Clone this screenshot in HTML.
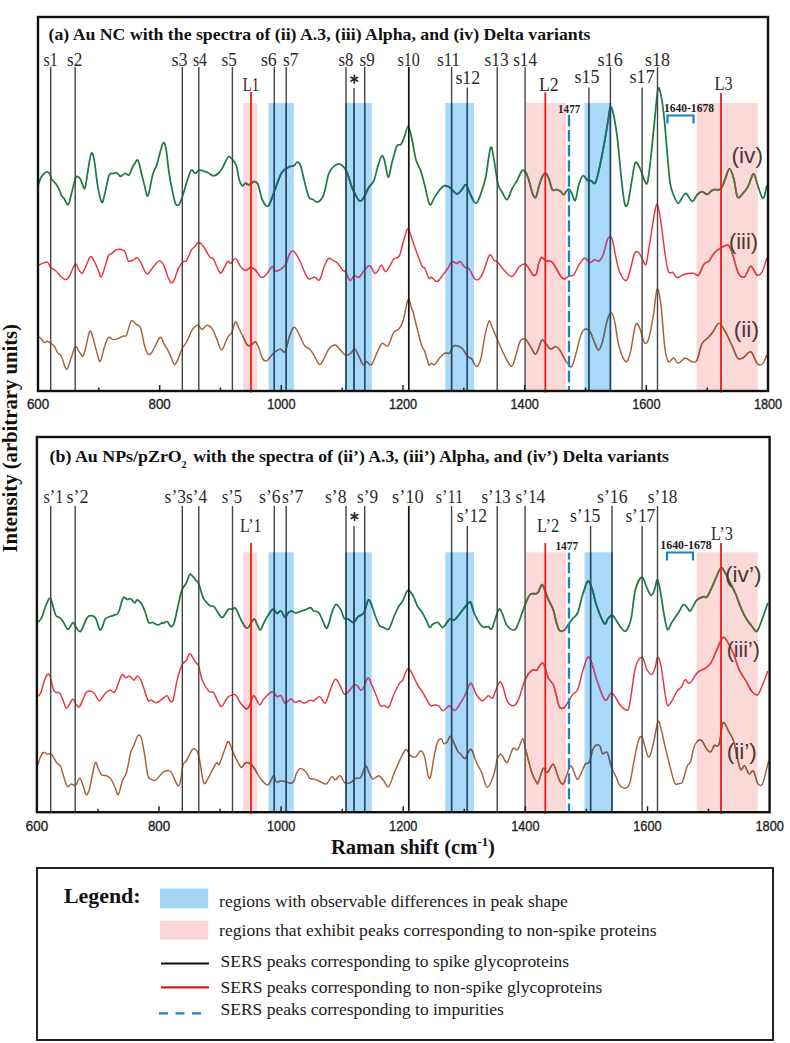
<!DOCTYPE html><html><head><meta charset="utf-8"><style>html,body{margin:0;padding:0;background:#fff;width:790px;height:1043px;overflow:hidden}</style></head><body><svg width="790" height="1043" viewBox="0 0 790 1043" style="display:block">
<rect width="790" height="1043" fill="#fff"/>
<rect x="243.2" y="103" width="13.9" height="288" fill="#fbd9d9"/>
<rect x="268.5" y="103" width="25.3" height="288" fill="#a9d9f8"/>
<rect x="346.5" y="103" width="25.3" height="288" fill="#a9d9f8"/>
<rect x="445.3" y="103" width="28.7" height="288" fill="#a9d9f8"/>
<rect x="526.3" y="103" width="39.7" height="288" fill="#fbd9d9"/>
<rect x="584.5" y="103" width="27.0" height="288" fill="#a9d9f8"/>
<rect x="696.5" y="103" width="61.2" height="288" fill="#fbd9d9"/>
<clipPath id="pk17"><rect x="243.2" y="103" width="13.9" height="288"/><rect x="526.3" y="103" width="39.7" height="288"/><rect x="696.5" y="103" width="61.2" height="288"/></clipPath>
<clipPath id="bl17"><rect x="268.5" y="103" width="25.3" height="288"/><rect x="346.5" y="103" width="25.3" height="288"/><rect x="445.3" y="103" width="28.7" height="288"/><rect x="584.5" y="103" width="27.0" height="288"/></clipPath>
<defs><path id="c_a_iv" d="M38.5,184.2 C38.9,183.1 39.9,179.4 40.9,177.6 C41.9,175.8 43.1,174.5 44.2,173.5 C45.3,172.5 46.5,171.7 47.5,171.8 C48.5,171.9 49.3,173.1 50.0,174.3 C50.7,175.5 50.6,177.7 51.6,179.2 C52.6,180.7 54.5,181.8 55.7,183.4 C56.9,185.1 58.0,187.1 59.0,189.1 C60.0,191.1 60.7,194.2 61.5,195.7 C62.3,197.2 62.9,196.7 64.0,198.2 C65.1,199.7 66.9,205.4 68.1,204.7 C69.3,204.0 70.2,198.4 71.4,194.0 C72.6,189.6 74.4,181.3 75.5,178.4 C76.6,175.5 77.2,176.7 78.0,176.8 C78.8,176.9 79.5,177.4 80.4,179.2 C81.4,181.0 82.9,186.3 83.7,187.5 C84.5,188.7 84.6,190.2 85.4,186.6 C86.2,183.0 87.7,171.7 88.7,166.1 C89.7,160.5 90.5,153.7 91.5,152.9 C92.5,152.1 93.4,155.6 94.4,161.1 C95.4,166.6 96.5,178.9 97.7,185.8 C98.9,192.7 100.6,201.2 101.8,202.3 C103.0,203.4 103.9,196.9 105.1,192.4 C106.3,187.9 107.8,178.2 109.2,175.1 C110.6,171.9 112.1,173.9 113.3,173.5 C114.5,173.1 115.4,172.2 116.6,172.7 C117.8,173.2 119.3,176.2 120.7,176.3 C122.1,176.4 123.5,173.7 124.9,173.5 C126.3,173.3 127.8,176.1 129.0,175.1 C130.2,174.1 131.4,169.6 132.3,167.7 C133.2,165.8 133.8,164.8 134.7,163.6 C135.6,162.4 136.9,158.8 138.0,160.3 C139.1,161.8 140.2,168.4 141.3,172.7 C142.4,176.9 143.5,182.0 144.6,185.8 C145.7,189.6 146.5,197.6 147.9,195.7 C149.3,193.8 151.3,179.5 152.8,174.3 C154.3,169.1 155.2,169.5 156.9,164.4 C158.6,159.3 161.2,146.7 162.7,143.9 C164.2,141.1 164.8,143.0 165.8,147.8 C166.9,152.6 167.9,165.4 169.0,172.5 C170.1,179.6 171.2,185.4 172.3,190.6 C173.4,195.8 174.5,201.5 175.6,203.8 C176.7,206.1 177.8,205.7 178.9,204.6 C180.0,203.5 180.8,201.2 182.2,197.2 C183.6,193.2 185.7,185.3 187.2,180.8 C188.7,176.3 189.9,171.3 191.3,170.1 C192.7,168.9 194.0,173.4 195.4,173.4 C196.8,173.4 197.4,170.2 199.5,170.1 C201.6,169.9 205.4,171.6 207.7,172.5 C210.0,173.4 211.6,175.8 213.5,175.8 C215.4,175.8 217.5,174.1 219.2,172.5 C220.8,170.9 221.9,168.6 223.4,166.0 C224.9,163.4 226.8,158.0 228.3,156.9 C229.8,155.8 231.0,157.9 232.4,159.4 C233.8,160.9 235.4,162.7 236.5,166.0 C237.6,169.3 238.0,175.8 239.0,179.1 C240.0,182.4 241.2,185.0 242.3,185.7 C243.4,186.4 244.5,183.3 245.6,183.2 C246.7,183.1 247.5,185.2 248.9,184.9 C250.3,184.6 252.3,181.8 253.8,181.6 C255.3,181.4 256.5,181.1 257.9,184.0 C259.3,186.9 260.5,195.2 262.0,198.9 C263.5,202.6 265.6,205.8 267.0,206.3 C268.4,206.9 268.9,205.1 270.3,202.2 C271.7,199.3 273.3,193.9 275.2,189.0 C277.1,184.1 279.4,176.2 281.8,172.5 C284.2,168.8 287.9,167.7 289.9,166.6 C291.9,165.5 292.8,166.5 294.0,165.8 C295.2,165.1 296.2,162.2 297.3,162.2 C298.4,162.2 299.4,162.5 300.6,165.8 C301.8,169.2 303.3,177.1 304.7,182.3 C306.1,187.5 307.5,194.2 308.9,197.1 C310.3,200.0 311.5,198.8 313.0,199.6 C314.5,200.4 316.1,202.8 317.9,202.0 C319.7,201.2 321.9,199.3 323.7,194.6 C325.5,189.9 327.1,178.5 328.6,174.0 C330.1,169.5 331.2,169.1 332.7,167.5 C334.2,165.9 336.2,164.6 337.7,164.2 C339.2,163.8 340.3,163.8 341.8,165.0 C343.3,166.2 345.1,168.0 346.7,171.6 C348.3,175.2 350.1,182.4 351.6,186.4 C353.1,190.4 354.4,192.9 355.8,195.4 C357.2,197.9 358.5,200.9 359.9,201.2 C361.3,201.5 362.5,199.4 364.0,197.1 C365.5,194.8 367.2,189.9 368.9,187.2 C370.5,184.4 372.4,184.2 373.9,180.6 C375.4,177.0 376.7,169.9 378.0,165.8 C379.3,161.7 380.7,156.7 381.8,155.9 C382.9,155.1 383.5,157.3 384.6,160.9 C385.7,164.5 387.1,177.0 388.3,177.3 C389.5,177.6 390.6,167.7 392.0,162.5 C393.4,157.3 395.4,149.1 396.9,146.1 C398.4,143.1 399.8,145.9 401.0,144.4 C402.2,142.9 403.1,140.0 404.3,137.0 C405.5,134.0 406.9,126.2 408.1,126.3 C409.3,126.4 410.4,132.3 411.7,137.8 C413.0,143.3 414.3,153.7 415.8,159.2 C417.3,164.7 419.2,166.4 420.7,170.8 C422.2,175.2 423.3,180.0 424.8,185.6 C426.3,191.2 428.1,202.6 429.7,204.5 C431.3,206.4 432.9,199.7 434.7,197.1 C436.5,194.5 438.8,190.8 440.4,188.9 C442.0,187.0 443.1,185.9 444.6,185.6 C446.1,185.3 447.4,185.8 449.5,187.2 C451.6,188.6 454.8,193.4 456.9,193.8 C458.9,194.2 460.3,191.2 461.8,189.7 C463.3,188.2 464.6,184.0 466.0,184.7 C467.4,185.4 468.5,190.7 470.1,193.8 C471.7,196.9 474.0,203.3 475.8,203.3 C477.6,203.3 479.2,198.1 480.8,193.8 C482.4,189.5 484.1,185.0 485.7,177.3 C487.3,169.6 489.2,150.7 490.6,147.7 C492.0,144.7 492.7,153.2 493.9,159.2 C495.1,165.2 496.6,178.4 498.0,183.9 C499.4,189.4 500.7,189.6 502.2,192.2 C503.7,194.8 505.5,200.1 507.1,199.6 C508.7,199.1 510.4,192.1 512.0,188.9 C513.6,185.7 515.4,183.6 517.0,180.6 C518.6,177.6 520.5,172.3 521.9,170.8 C523.3,169.3 524.1,170.2 525.2,171.6 C526.3,173.0 527.3,175.3 528.5,179.0 C529.7,182.7 531.4,190.8 532.6,193.8 C533.8,196.8 534.8,198.5 535.9,197.1 C537.0,195.7 538.0,189.0 539.1,185.6 C540.2,182.2 541.3,178.6 542.4,176.5 C543.5,174.4 544.6,172.8 545.7,173.2 C546.8,173.6 547.9,176.2 549.0,179.0 C550.1,181.8 551.1,187.9 552.3,189.7 C553.5,191.5 555.0,189.4 556.4,189.7 C557.8,190.0 559.3,190.5 560.5,191.3 C561.7,192.1 562.4,195.0 563.8,194.6 C565.2,194.2 567.3,189.0 568.7,188.9 C570.1,188.8 570.9,191.9 572.0,193.8 C573.1,195.7 574.2,201.8 575.3,200.4 C576.4,199.0 577.4,189.7 578.6,185.6 C579.8,181.5 581.2,176.5 582.7,175.7 C584.2,174.9 586.3,179.8 587.7,180.6 C589.1,181.4 589.8,180.2 591.0,180.6 C592.2,181.0 593.9,184.5 595.1,183.1 C596.3,181.7 596.9,178.8 598.4,172.4 C599.9,166.0 602.5,153.2 604.1,144.4 C605.7,135.6 607.2,125.9 608.2,119.7 C609.2,113.5 609.6,108.5 610.4,107.4 C611.2,106.3 612.1,108.1 613.2,113.2 C614.4,118.3 615.9,126.8 617.3,137.8 C618.7,148.8 620.2,168.0 621.4,179.0 C622.6,190.0 623.6,199.7 624.7,203.7 C625.8,207.7 626.8,206.9 628.0,202.8 C629.2,198.7 630.9,185.7 632.1,179.0 C633.3,172.3 634.0,164.2 635.4,162.5 C636.8,160.8 638.6,165.8 640.3,169.1 C641.9,172.4 644.1,180.2 645.3,182.3 C646.5,184.4 646.8,185.3 647.7,181.5 C648.6,177.7 649.5,169.2 650.6,159.7 C651.7,150.2 653.0,135.8 654.2,124.3 C655.4,112.8 656.7,95.9 657.7,90.6 C658.7,85.3 659.4,88.3 660.4,92.4 C661.4,96.5 662.9,106.5 663.9,115.4 C664.9,124.3 665.6,134.4 666.6,145.6 C667.6,156.8 668.9,174.5 670.1,182.8 C671.3,191.1 672.4,191.8 673.7,195.2 C675.0,198.6 676.6,202.9 678.1,203.2 C679.6,203.5 681.2,198.6 682.5,197.0 C683.8,195.4 684.5,192.7 686.1,193.4 C687.7,194.1 690.5,201.1 692.3,201.4 C694.1,201.7 695.1,196.8 696.7,195.2 C698.3,193.6 700.2,191.8 702.0,191.6 C703.8,191.4 705.5,194.6 707.3,194.3 C709.1,194.0 710.5,190.8 712.7,189.9 C714.9,189.0 718.5,190.8 720.6,189.0 C722.7,187.2 723.6,182.6 725.1,179.2 C726.6,175.8 728.0,168.6 729.5,168.6 C731.0,168.6 732.6,174.5 733.9,179.2 C735.2,183.9 736.0,194.6 737.5,197.0 C739.0,199.4 741.0,195.2 742.8,193.4 C744.6,191.6 746.3,189.6 748.1,186.3 C749.9,183.1 751.9,174.5 753.4,173.9 C754.9,173.3 755.7,179.1 757.0,182.8 C758.3,186.5 760.2,193.7 761.4,196.1 C762.6,198.5 763.1,198.6 764.0,197.0 C764.9,195.4 766.2,188.1 766.7,186.3"/></defs>
<use href="#c_a_iv" fill="none" stroke="#1f7a45" stroke-width="1.75" stroke-linejoin="round" stroke-linecap="round"/>
<use href="#c_a_iv" fill="none" stroke="#6e6a3c" stroke-width="1.75" stroke-linejoin="round" stroke-linecap="round" clip-path="url(#pk17)"/>
<use href="#c_a_iv" fill="none" stroke="#1a6e6a" stroke-width="1.75" stroke-linejoin="round" stroke-linecap="round" clip-path="url(#bl17)"/>
<defs><path id="c_a_iii" d="M38.5,265.0 C39.2,264.7 41.1,263.9 42.6,263.4 C44.1,262.9 46.1,261.5 47.5,262.2 C48.9,262.9 49.4,266.1 50.8,267.5 C52.2,268.9 54.1,269.3 55.7,270.8 C57.4,272.3 59.1,275.0 60.7,276.5 C62.4,278.0 64.1,279.9 65.6,279.8 C67.1,279.7 68.1,278.3 69.7,275.7 C71.3,273.1 73.7,265.2 75.2,264.2 C76.7,263.2 77.7,268.4 78.8,269.9 C79.9,271.4 81.0,273.6 82.1,273.2 C83.2,272.8 84.0,270.2 85.4,267.5 C86.8,264.8 88.8,257.8 90.3,256.8 C91.8,255.8 93.0,259.4 94.4,261.7 C95.8,264.0 97.4,268.2 98.5,270.8 C99.6,273.4 100.0,277.3 101.0,277.0 C102.0,276.7 103.1,272.6 104.3,269.1 C105.5,265.6 107.2,258.5 108.4,255.9 C109.6,253.3 110.3,254.5 111.7,253.5 C113.1,252.5 114.7,250.2 116.6,249.7 C118.5,249.1 121.7,249.6 123.2,250.2 C124.7,250.8 124.9,251.7 125.7,253.5 C126.5,255.3 127.0,259.8 128.2,260.9 C129.4,262.0 131.6,260.6 133.1,260.1 C134.6,259.6 135.8,257.3 137.2,257.9 C138.6,258.4 140.1,261.2 141.3,263.4 C142.5,265.5 143.5,269.0 144.6,270.8 C145.7,272.6 146.5,274.6 147.9,274.0 C149.3,273.4 150.9,269.7 152.8,267.5 C154.7,265.3 157.5,261.2 159.4,260.9 C161.3,260.6 162.8,263.3 164.1,265.8 C165.4,268.3 166.3,272.9 167.4,275.7 C168.5,278.4 169.6,281.5 170.7,282.3 C171.8,283.1 172.8,282.8 174.0,280.6 C175.2,278.4 176.6,272.2 178.1,269.1 C179.6,266.0 181.6,263.1 183.0,261.7 C184.4,260.3 184.9,262.8 186.3,260.9 C187.7,259.0 189.8,252.7 191.3,250.2 C192.8,247.7 194.2,247.4 195.4,246.1 C196.6,244.8 197.1,242.8 198.2,242.5 C199.3,242.2 200.7,243.0 202.0,244.4 C203.3,245.8 204.7,248.8 206.1,251.0 C207.5,253.2 209.0,256.2 210.2,257.6 C211.4,259.0 212.0,256.9 213.5,259.2 C215.0,261.5 217.8,269.4 219.2,271.6 C220.6,273.8 220.3,274.0 221.7,272.4 C223.1,270.8 226.0,263.2 227.5,261.7 C229.0,260.2 229.5,263.9 230.8,263.4 C232.1,262.8 233.8,257.9 235.4,258.4 C237.0,258.9 238.9,264.6 240.6,266.6 C242.3,268.6 243.9,270.2 245.6,270.4 C247.2,270.5 248.9,267.6 250.5,267.5 C252.1,267.4 253.6,268.3 255.4,269.9 C257.2,271.5 259.4,276.5 261.2,277.3 C263.0,278.1 264.3,276.7 266.1,274.9 C267.9,273.1 270.4,267.3 271.9,266.6 C273.4,265.9 273.7,270.4 275.2,270.8 C276.7,271.2 279.2,270.2 281.0,269.1 C282.8,268.0 284.5,266.5 285.9,264.2 C287.2,261.9 288.0,257.3 289.1,255.1 C290.2,252.9 291.3,251.3 292.4,251.0 C293.5,250.7 294.3,251.6 295.7,253.5 C297.1,255.4 299.1,259.4 300.6,262.5 C302.1,265.6 303.3,269.6 304.7,272.4 C306.1,275.1 307.2,278.2 308.9,279.0 C310.5,279.8 312.8,277.2 314.6,277.3 C316.4,277.4 318.0,281.7 319.6,279.8 C321.2,277.9 323.0,269.4 324.5,265.8 C326.0,262.2 327.2,259.3 328.6,258.4 C330.0,257.4 331.3,259.4 332.7,260.1 C334.1,260.8 335.1,260.9 336.8,262.5 C338.5,264.1 341.1,268.2 342.6,269.9 C344.1,271.5 344.7,270.6 345.9,272.4 C347.1,274.2 348.6,280.1 350.0,280.6 C351.4,281.2 352.6,276.2 354.1,275.7 C355.6,275.1 357.4,278.1 359.0,277.3 C360.6,276.5 362.2,272.7 364.0,270.8 C365.8,268.9 367.9,265.4 369.7,265.8 C371.5,266.2 373.3,272.4 374.7,273.2 C376.1,274.0 376.9,272.2 378.0,270.8 C379.1,269.4 380.1,264.9 381.3,265.0 C382.5,265.1 384.0,271.3 385.4,271.6 C386.8,271.9 388.1,268.7 389.5,266.6 C390.9,264.5 392.0,261.0 393.6,259.2 C395.2,257.4 397.8,258.9 399.4,255.9 C401.0,252.9 402.1,245.6 403.5,241.1 C404.9,236.6 406.4,229.8 407.6,228.8 C408.8,227.9 409.9,233.1 410.9,235.4 C411.8,237.7 412.2,239.7 413.3,242.8 C414.4,246.0 415.9,250.3 417.4,254.3 C418.9,258.3 421.1,264.3 422.3,266.6 C423.5,268.9 423.7,266.4 424.8,268.3 C425.9,270.2 427.8,276.7 428.9,278.2 C430.0,279.7 430.0,276.8 431.4,277.3 C432.8,277.9 435.3,281.9 437.2,281.5 C439.1,281.1 441.1,277.1 442.9,274.9 C444.7,272.7 446.3,270.5 447.8,268.3 C449.3,266.1 450.5,262.5 452.0,261.7 C453.5,260.9 455.5,263.4 456.9,263.4 C458.3,263.4 458.8,261.0 460.2,261.7 C461.6,262.4 463.6,266.3 465.1,267.5 C466.6,268.7 467.6,267.2 469.2,269.1 C470.8,271.0 473.4,277.4 475.0,279.0 C476.6,280.6 477.7,280.1 479.1,279.0 C480.5,277.9 481.5,276.4 483.2,272.4 C484.9,268.4 487.7,257.1 489.5,255.1 C491.3,253.1 492.6,259.0 493.9,260.1 C495.2,261.2 495.5,260.1 497.2,261.7 C498.9,263.3 501.3,267.4 503.8,269.9 C506.3,272.4 509.4,277.1 512.0,276.5 C514.6,275.9 517.2,268.7 519.4,266.6 C521.6,264.6 523.6,263.8 525.2,264.2 C526.9,264.6 527.9,267.2 529.3,269.1 C530.7,271.0 532.2,274.7 533.4,275.4 C534.6,276.1 535.9,274.9 536.7,273.2 C537.5,271.4 537.5,267.5 538.3,264.9 C539.1,262.3 540.4,258.2 541.6,257.5 C542.8,256.8 544.1,260.1 545.7,260.8 C547.4,261.5 549.9,260.5 551.5,261.6 C553.1,262.7 554.2,265.1 555.6,267.3 C557.0,269.5 558.3,272.8 559.7,274.7 C561.1,276.6 562.3,278.6 563.8,278.9 C565.3,279.2 567.1,277.1 568.7,276.4 C570.4,275.7 572.1,276.5 573.7,274.7 C575.4,272.9 576.8,268.4 578.6,265.7 C580.4,263.0 582.5,258.9 584.4,258.3 C586.3,257.8 588.5,262.1 590.1,262.4 C591.7,262.7 592.7,260.2 594.2,259.9 C595.7,259.6 597.7,261.8 599.2,260.8 C600.7,259.9 601.9,257.8 603.3,254.2 C604.7,250.6 606.3,242.3 607.4,239.4 C608.5,236.5 609.1,236.9 609.9,236.9 C610.7,236.9 611.3,236.2 612.3,239.4 C613.2,242.6 614.4,250.3 615.6,255.8 C616.8,261.3 617.9,268.2 619.7,272.3 C621.5,276.4 624.5,281.1 626.3,280.5 C628.1,279.9 629.0,273.5 630.4,269.0 C631.8,264.5 633.2,256.1 634.6,253.4 C636.0,250.7 637.3,251.4 638.7,252.5 C640.1,253.6 641.6,258.0 642.8,259.9 C644.0,261.8 645.0,266.8 646.1,264.0 C647.2,261.2 648.4,251.4 649.7,243.2 C651.1,235.0 653.0,221.3 654.2,214.8 C655.5,208.3 656.2,203.6 657.2,204.2 C658.2,204.8 659.1,210.4 660.4,218.4 C661.7,226.4 663.5,243.2 664.8,252.0 C666.1,260.9 667.1,268.1 668.4,271.5 C669.7,274.9 671.3,271.4 672.8,272.4 C674.3,273.4 675.3,277.4 677.2,277.7 C679.1,278.0 681.6,274.9 684.3,274.2 C687.0,273.5 690.8,273.1 693.2,273.3 C695.6,273.5 696.7,276.6 698.5,275.1 C700.3,273.6 702.0,266.8 703.8,264.4 C705.6,262.0 707.3,262.8 709.1,260.9 C710.9,259.0 712.3,255.1 714.4,252.9 C716.5,250.7 719.1,248.9 721.5,247.6 C723.9,246.3 726.7,244.0 728.6,245.3 C730.5,246.6 731.4,250.9 733.0,255.6 C734.6,260.3 736.5,269.8 738.4,273.3 C740.3,276.8 742.5,278.0 744.6,276.8 C746.7,275.6 748.7,266.5 750.8,266.2 C752.9,265.9 755.1,274.2 757.0,275.1 C758.9,276.0 760.7,274.3 762.3,271.5 C763.9,268.7 766.0,260.4 766.7,258.2"/></defs>
<use href="#c_a_iii" fill="none" stroke="#e8343c" stroke-width="1.45" stroke-linejoin="round" stroke-linecap="round"/>
<use href="#c_a_iii" fill="none" stroke="#e0403c" stroke-width="1.45" stroke-linejoin="round" stroke-linecap="round" clip-path="url(#pk17)"/>
<use href="#c_a_iii" fill="none" stroke="#b8508a" stroke-width="1.45" stroke-linejoin="round" stroke-linecap="round" clip-path="url(#bl17)"/>
<defs><path id="c_a_ii" d="M38.5,336.8 C38.9,337.1 39.9,337.4 40.9,338.4 C41.9,339.3 43.1,342.0 44.2,342.5 C45.3,343.0 46.4,341.1 47.5,341.2 C48.6,341.3 49.7,342.6 50.8,343.4 C51.9,344.2 53.0,344.3 54.1,345.8 C55.2,347.3 56.2,350.6 57.4,352.4 C58.6,354.2 60.3,354.2 61.5,356.5 C62.7,358.8 63.8,364.3 64.8,366.4 C65.8,368.5 66.2,370.4 67.3,368.9 C68.4,367.4 70.0,361.0 71.4,357.3 C72.8,353.6 74.1,347.4 75.5,346.6 C76.9,345.8 78.2,351.0 79.6,352.4 C81.0,353.8 82.0,358.3 83.7,354.9 C85.4,351.5 88.0,334.7 89.5,331.8 C91.0,328.9 91.6,334.2 92.8,337.6 C94.0,341.0 95.7,348.4 96.9,352.4 C98.1,356.4 99.0,362.3 100.2,361.5 C101.4,360.7 102.9,351.5 104.3,347.5 C105.7,343.5 106.9,338.9 108.4,337.6 C109.9,336.3 111.7,339.5 113.3,339.6 C114.9,339.7 116.6,339.0 118.3,338.4 C120.0,337.8 121.8,336.6 123.2,336.0 C124.6,335.4 125.3,337.4 126.5,335.1 C127.7,332.8 129.5,324.3 130.6,322.0 C131.7,319.7 132.1,320.7 133.1,321.1 C134.1,321.5 135.2,323.3 136.4,324.4 C137.6,325.5 139.1,324.1 140.5,327.7 C141.9,331.3 143.4,341.4 144.6,345.8 C145.8,350.2 146.8,352.8 147.9,354.0 C149.0,355.2 150.1,354.3 151.2,353.2 C152.3,352.1 153.0,350.1 154.5,347.5 C156.0,344.9 158.6,337.9 160.2,337.3 C161.8,336.8 162.8,341.9 164.1,344.2 C165.4,346.4 167.0,348.5 168.2,350.8 C169.4,353.1 170.4,355.9 171.5,358.2 C172.6,360.5 173.4,364.6 174.5,364.7 C175.6,364.8 176.8,361.7 178.1,359.0 C179.4,356.3 180.8,351.1 182.2,348.3 C183.6,345.6 184.7,345.5 186.3,342.5 C188.0,339.5 190.2,333.1 192.1,330.2 C194.0,327.3 196.2,325.4 197.8,325.3 C199.5,325.2 200.5,329.4 202.0,329.4 C203.5,329.4 205.1,325.3 206.9,325.3 C208.7,325.3 211.0,327.1 212.7,329.4 C214.3,331.7 215.3,335.8 216.8,339.2 C218.3,342.6 219.9,350.2 221.7,349.9 C223.5,349.6 225.8,340.5 227.5,337.6 C229.2,334.7 230.3,335.3 231.6,332.7 C232.9,330.1 234.2,322.7 235.4,322.0 C236.6,321.3 237.7,326.0 239.0,328.5 C240.3,331.0 241.7,334.1 243.1,336.8 C244.5,339.6 245.8,343.6 247.2,345.0 C248.6,346.4 249.9,345.6 251.3,345.0 C252.7,344.4 254.2,341.3 255.4,341.7 C256.6,342.1 257.5,344.6 258.7,347.5 C259.9,350.4 261.4,356.8 262.8,359.0 C264.2,361.2 265.2,361.6 267.0,360.6 C268.8,359.6 271.3,355.1 273.5,353.2 C275.7,351.3 278.2,349.4 280.1,349.1 C282.0,348.8 283.6,353.5 285.1,351.6 C286.6,349.7 287.8,341.6 289.1,337.6 C290.5,333.6 292.0,329.1 293.2,327.7 C294.4,326.3 295.3,327.8 296.5,329.4 C297.7,331.0 299.2,334.9 300.6,337.6 C302.0,340.3 303.2,343.9 304.7,345.8 C306.2,347.7 308.2,347.6 309.7,349.1 C311.2,350.6 312.1,352.3 313.8,354.9 C315.5,357.5 317.8,364.3 319.6,364.7 C321.4,365.1 322.9,360.0 324.5,357.3 C326.1,354.6 327.6,350.4 329.4,348.3 C331.2,346.2 333.3,344.6 335.2,345.0 C337.1,345.4 339.2,349.1 341.0,350.8 C342.8,352.5 344.3,355.0 345.9,355.4 C347.5,355.8 349.3,354.2 350.8,353.2 C352.3,352.1 353.5,348.6 354.9,349.1 C356.3,349.7 357.6,353.9 359.0,356.5 C360.4,359.1 361.9,363.9 363.2,364.7 C364.4,365.5 365.1,361.5 366.5,361.5 C367.9,361.5 369.6,366.2 371.4,364.7 C373.2,363.2 375.3,355.9 377.1,352.4 C378.9,348.8 380.3,344.5 382.1,343.4 C383.9,342.3 385.9,347.6 387.8,345.8 C389.7,344.0 391.7,335.6 393.6,332.7 C395.5,329.8 397.8,330.7 399.4,328.5 C401.0,326.3 402.1,324.3 403.5,319.5 C404.9,314.7 406.7,301.5 408.1,299.7 C409.5,297.9 410.8,306.6 411.7,308.8 C412.6,311.0 412.4,309.5 413.3,312.9 C414.2,316.3 416.0,324.0 417.4,329.4 C418.8,334.8 420.3,341.3 421.5,345.0 C422.7,348.7 423.6,348.3 424.8,351.6 C426.0,354.9 427.8,362.8 428.9,364.7 C430.0,366.6 430.4,363.1 431.4,363.1 C432.4,363.1 433.5,365.4 434.7,364.7 C435.9,364.0 437.1,360.9 438.8,359.0 C440.5,357.1 442.8,354.2 444.6,353.2 C446.4,352.2 448.0,354.4 449.5,353.2 C451.0,352.0 452.0,346.9 453.6,345.8 C455.2,344.7 457.9,346.1 459.4,346.6 C460.9,347.2 461.3,347.5 462.7,349.1 C464.1,350.8 466.1,354.9 467.6,356.5 C469.1,358.1 470.2,357.4 471.7,359.0 C473.2,360.6 475.1,366.4 476.6,366.4 C478.1,366.4 479.4,364.1 480.8,359.0 C482.2,353.9 483.5,342.2 484.9,335.9 C486.3,329.6 487.8,322.5 489.0,321.1 C490.2,319.7 490.9,324.7 492.3,327.7 C493.7,330.7 495.3,334.8 497.2,339.2 C499.1,343.6 501.5,349.5 503.8,354.0 C506.1,358.5 509.3,365.8 511.2,366.4 C513.1,366.9 513.8,361.6 515.3,357.3 C516.8,353.1 518.6,343.9 520.3,340.9 C521.9,337.9 523.6,338.4 525.2,339.2 C526.8,340.0 528.5,343.3 530.1,345.8 C531.8,348.3 533.7,353.4 535.1,354.0 C536.5,354.6 537.2,351.4 538.3,349.1 C539.4,346.8 540.7,341.1 541.9,340.1 C543.1,339.2 544.2,341.9 545.7,343.4 C547.2,344.9 549.0,348.6 550.6,349.1 C552.2,349.6 554.1,346.5 555.6,346.6 C557.1,346.7 558.2,347.8 559.7,349.9 C561.2,352.0 563.1,356.5 564.6,359.0 C566.1,361.5 567.5,363.5 568.7,364.7 C569.9,365.9 570.8,368.3 572.0,366.4 C573.2,364.5 574.7,358.1 576.1,353.2 C577.5,348.3 578.9,340.8 580.3,336.8 C581.7,332.8 582.8,330.2 584.4,329.4 C586.0,328.6 588.5,329.8 590.1,331.8 C591.7,333.9 592.8,338.7 594.2,341.7 C595.6,344.7 597.0,349.9 598.4,349.9 C599.8,349.9 601.0,346.8 602.5,341.7 C604.0,336.6 605.9,324.3 607.4,319.5 C608.9,314.7 610.3,312.5 611.5,312.9 C612.7,313.3 613.6,316.5 614.8,322.0 C616.0,327.5 617.1,339.2 618.9,345.8 C620.7,352.4 623.6,360.4 625.5,361.5 C627.4,362.6 628.8,358.4 630.4,352.4 C632.0,346.4 633.9,329.4 635.4,325.3 C636.9,321.2 638.0,324.8 639.5,327.7 C641.0,330.6 642.9,340.6 644.4,342.5 C645.9,344.4 647.0,343.8 648.5,339.2 C650.0,334.6 652.1,323.0 653.5,314.6 C654.9,306.2 655.9,290.8 657.1,289.1 C658.3,287.5 659.6,295.0 660.9,304.7 C662.2,314.4 663.5,337.8 664.8,347.3 C666.0,356.8 666.9,359.7 668.4,361.5 C669.9,363.3 672.1,357.7 673.7,358.0 C675.3,358.3 676.2,363.3 678.1,363.3 C680.0,363.3 683.0,358.3 685.2,358.0 C687.4,357.7 689.5,361.1 691.4,361.5 C693.3,361.9 694.9,363.6 696.7,360.6 C698.5,357.7 700.1,347.6 702.0,343.8 C703.9,340.0 706.4,339.5 708.2,337.6 C710.0,335.7 710.9,334.7 712.7,332.3 C714.5,329.9 716.8,323.5 718.9,323.4 C721.0,323.2 722.9,327.7 725.1,331.4 C727.3,335.1 730.0,341.2 732.1,345.6 C734.2,350.0 735.7,355.9 737.5,358.0 C739.3,360.1 740.6,359.0 742.8,358.0 C745.0,357.0 748.4,350.9 750.8,351.8 C753.2,352.7 755.1,361.2 757.0,363.3 C758.9,365.4 760.7,365.5 762.3,364.2 C763.9,362.9 766.0,356.8 766.7,355.3"/></defs>
<use href="#c_a_ii" fill="none" stroke="#a8603a" stroke-width="1.45" stroke-linejoin="round" stroke-linecap="round"/>
<use href="#c_a_ii" fill="none" stroke="#9c5a3a" stroke-width="1.45" stroke-linejoin="round" stroke-linecap="round" clip-path="url(#pk17)"/>
<use href="#c_a_ii" fill="none" stroke="#6a6470" stroke-width="1.45" stroke-linejoin="round" stroke-linecap="round" clip-path="url(#bl17)"/>
<line x1="50.7" y1="67" x2="50.7" y2="391" stroke="#454545" stroke-width="1.4"/>
<line x1="75.2" y1="67" x2="75.2" y2="391" stroke="#454545" stroke-width="1.4"/>
<line x1="182.3" y1="67" x2="182.3" y2="391" stroke="#454545" stroke-width="1.4"/>
<line x1="198.8" y1="67" x2="198.8" y2="391" stroke="#454545" stroke-width="1.4"/>
<line x1="232.4" y1="67" x2="232.4" y2="391" stroke="#454545" stroke-width="1.4"/>
<line x1="274.3" y1="67" x2="274.3" y2="391" stroke="#454545" stroke-width="1.4"/>
<line x1="274.3" y1="103" x2="274.3" y2="391" stroke="#1d4a68" stroke-width="1.4"/>
<line x1="286.2" y1="67" x2="286.2" y2="391" stroke="#454545" stroke-width="1.4"/>
<line x1="286.2" y1="103" x2="286.2" y2="391" stroke="#1d4a68" stroke-width="1.4"/>
<line x1="346" y1="67" x2="346" y2="391" stroke="#454545" stroke-width="1.4"/>
<line x1="346" y1="103" x2="346" y2="391" stroke="#1d4a68" stroke-width="1.4"/>
<line x1="354" y1="88" x2="354" y2="391" stroke="#454545" stroke-width="1.4"/>
<line x1="354" y1="103" x2="354" y2="391" stroke="#1d4a68" stroke-width="1.4"/>
<line x1="364.7" y1="67" x2="364.7" y2="391" stroke="#454545" stroke-width="1.4"/>
<line x1="364.7" y1="103" x2="364.7" y2="391" stroke="#1d4a68" stroke-width="1.4"/>
<line x1="408.8" y1="67" x2="408.8" y2="391" stroke="#111" stroke-width="1.7"/>
<line x1="451.6" y1="67" x2="451.6" y2="391" stroke="#454545" stroke-width="1.4"/>
<line x1="451.6" y1="103" x2="451.6" y2="391" stroke="#1d4a68" stroke-width="1.4"/>
<line x1="467.3" y1="87.5" x2="467.3" y2="391" stroke="#454545" stroke-width="1.4"/>
<line x1="467.3" y1="103" x2="467.3" y2="391" stroke="#1d4a68" stroke-width="1.4"/>
<line x1="497.2" y1="67" x2="497.2" y2="391" stroke="#454545" stroke-width="1.4"/>
<line x1="525.1" y1="67" x2="525.1" y2="391" stroke="#454545" stroke-width="1.4"/>
<line x1="588.9" y1="87.5" x2="588.9" y2="391" stroke="#454545" stroke-width="1.4"/>
<line x1="588.9" y1="103" x2="588.9" y2="391" stroke="#1d4a68" stroke-width="1.4"/>
<line x1="610.4" y1="67" x2="610.4" y2="391" stroke="#454545" stroke-width="1.4"/>
<line x1="610.4" y1="103" x2="610.4" y2="391" stroke="#1d4a68" stroke-width="1.4"/>
<line x1="642.1" y1="87.5" x2="642.1" y2="391" stroke="#454545" stroke-width="1.4"/>
<line x1="657.5" y1="67" x2="657.5" y2="391" stroke="#454545" stroke-width="1.4"/>
<line x1="251" y1="92" x2="251" y2="392.5" stroke="#ee1c1c" stroke-width="1.8"/>
<line x1="545.3" y1="92.5" x2="545.3" y2="392.5" stroke="#ee1c1c" stroke-width="1.8"/>
<line x1="721" y1="93" x2="721" y2="392.5" stroke="#ee1c1c" stroke-width="1.8"/>
<line x1="569" y1="115" x2="569" y2="391" stroke="#1b7fcc" stroke-width="2.3" stroke-dasharray="11.5 3.55"/>
<line x1="98.8" y1="387.5" x2="98.8" y2="391" stroke="#222" stroke-width="1.5"/>
<line x1="159.7" y1="385" x2="159.7" y2="391" stroke="#222" stroke-width="1.5"/>
<line x1="220.5" y1="387.5" x2="220.5" y2="391" stroke="#222" stroke-width="1.5"/>
<line x1="281.3" y1="385" x2="281.3" y2="391" stroke="#222" stroke-width="1.5"/>
<line x1="342.2" y1="387.5" x2="342.2" y2="391" stroke="#222" stroke-width="1.5"/>
<line x1="403.0" y1="385" x2="403.0" y2="391" stroke="#222" stroke-width="1.5"/>
<line x1="463.8" y1="387.5" x2="463.8" y2="391" stroke="#222" stroke-width="1.5"/>
<line x1="524.7" y1="385" x2="524.7" y2="391" stroke="#222" stroke-width="1.5"/>
<line x1="585.5" y1="387.5" x2="585.5" y2="391" stroke="#222" stroke-width="1.5"/>
<line x1="646.3" y1="385" x2="646.3" y2="391" stroke="#222" stroke-width="1.5"/>
<line x1="707.2" y1="387.5" x2="707.2" y2="391" stroke="#222" stroke-width="1.5"/>
<rect x="38" y="17" width="730" height="374" fill="none" stroke="#111" stroke-width="2.4"/>
<text x="43.6" y="65.8" font-size="18" font-family="Liberation Serif, serif" font-weight="normal" fill="#2a2a2a" textLength="14.1" lengthAdjust="spacingAndGlyphs" >s1</text>
<text x="67" y="65.8" font-size="18" font-family="Liberation Serif, serif" font-weight="normal" fill="#2a2a2a" textLength="15.3" lengthAdjust="spacingAndGlyphs" >s2</text>
<text x="171.4" y="65.8" font-size="18" font-family="Liberation Serif, serif" font-weight="normal" fill="#2a2a2a" textLength="16.0" lengthAdjust="spacingAndGlyphs" >s3</text>
<text x="193" y="65.8" font-size="18" font-family="Liberation Serif, serif" font-weight="normal" fill="#2a2a2a" textLength="14.0" lengthAdjust="spacingAndGlyphs" >s4</text>
<text x="221.5" y="65.8" font-size="18" font-family="Liberation Serif, serif" font-weight="normal" fill="#2a2a2a" textLength="15.2" lengthAdjust="spacingAndGlyphs" >s5</text>
<text x="260.9" y="65.8" font-size="18" font-family="Liberation Serif, serif" font-weight="normal" fill="#2a2a2a" textLength="15.9" lengthAdjust="spacingAndGlyphs" >s6</text>
<text x="283" y="65.8" font-size="18" font-family="Liberation Serif, serif" font-weight="normal" fill="#2a2a2a" textLength="15.4" lengthAdjust="spacingAndGlyphs" >s7</text>
<text x="338.4" y="65.8" font-size="18" font-family="Liberation Serif, serif" font-weight="normal" fill="#2a2a2a" textLength="14.9" lengthAdjust="spacingAndGlyphs" >s8</text>
<text x="359.6" y="65.8" font-size="18" font-family="Liberation Serif, serif" font-weight="normal" fill="#2a2a2a" textLength="15.2" lengthAdjust="spacingAndGlyphs" >s9</text>
<text x="397.6" y="65.8" font-size="18" font-family="Liberation Serif, serif" font-weight="normal" fill="#2a2a2a" textLength="22.3" lengthAdjust="spacingAndGlyphs" >s10</text>
<text x="437.2" y="65.8" font-size="18" font-family="Liberation Serif, serif" font-weight="normal" fill="#2a2a2a" textLength="22.8" lengthAdjust="spacingAndGlyphs" >s11</text>
<text x="455.4" y="84.2" font-size="18" font-family="Liberation Serif, serif" font-weight="normal" fill="#2a2a2a" textLength="24.9" lengthAdjust="spacingAndGlyphs" >s12</text>
<text x="484.6" y="65.8" font-size="18" font-family="Liberation Serif, serif" font-weight="normal" fill="#2a2a2a" textLength="24.0" lengthAdjust="spacingAndGlyphs" >s13</text>
<text x="513.2" y="65.8" font-size="18" font-family="Liberation Serif, serif" font-weight="normal" fill="#2a2a2a" textLength="23.8" lengthAdjust="spacingAndGlyphs" >s14</text>
<text x="574.5" y="83.2" font-size="18" font-family="Liberation Serif, serif" font-weight="normal" fill="#2a2a2a" textLength="25.0" lengthAdjust="spacingAndGlyphs" >s15</text>
<text x="597.6" y="65.9" font-size="18" font-family="Liberation Serif, serif" font-weight="normal" fill="#2a2a2a" textLength="25.1" lengthAdjust="spacingAndGlyphs" >s16</text>
<text x="629.6" y="83.2" font-size="18" font-family="Liberation Serif, serif" font-weight="normal" fill="#2a2a2a" textLength="25.1" lengthAdjust="spacingAndGlyphs" >s17</text>
<text x="645" y="65.9" font-size="18" font-family="Liberation Serif, serif" font-weight="normal" fill="#2a2a2a" textLength="25.0" lengthAdjust="spacingAndGlyphs" >s18</text>
<text x="242.7" y="91.3" font-size="18" font-family="Liberation Serif, serif" font-weight="normal" fill="#2a2a2a" textLength="16.4" lengthAdjust="spacingAndGlyphs" >L1</text>
<text x="539" y="91" font-size="18" font-family="Liberation Serif, serif" font-weight="normal" fill="#2a2a2a" textLength="19.7" lengthAdjust="spacingAndGlyphs" >L2</text>
<text x="714.6" y="90.4" font-size="18" font-family="Liberation Serif, serif" font-weight="normal" fill="#2a2a2a" textLength="18.1" lengthAdjust="spacingAndGlyphs" >L3</text>
<line x1="354.30" y1="75.40" x2="354.30" y2="83.00" stroke="#2a2a2a" stroke-width="1.7" stroke-linecap="round"/>
<line x1="351.01" y1="77.30" x2="357.59" y2="81.10" stroke="#2a2a2a" stroke-width="1.7" stroke-linecap="round"/>
<line x1="357.59" y1="77.30" x2="351.01" y2="81.10" stroke="#2a2a2a" stroke-width="1.7" stroke-linecap="round"/>
<text x="558" y="112.5" font-size="11.5" font-family="Liberation Serif, serif" font-weight="bold" fill="#1c1c1c" textLength="22.3" lengthAdjust="spacingAndGlyphs" >1477</text>
<text x="663.9" y="111.5" font-size="11.5" font-family="Liberation Serif, serif" font-weight="bold" fill="#1c1c1c" textLength="50.1" lengthAdjust="spacingAndGlyphs" >1640-1678</text>
<path d="M667.5,123.5 L667.5,115.5 L693.5,115.5 L693.5,123.5" fill="none" stroke="#1b7fcc" stroke-width="2.2"/>
<text x="26.9" y="408.8" font-size="14.6" font-family="Liberation Sans, sans-serif" fill="#222" stroke="#222" stroke-width="0.35" textLength="22.3" lengthAdjust="spacingAndGlyphs">600</text>
<text x="148.5" y="408.8" font-size="14.6" font-family="Liberation Sans, sans-serif" fill="#222" stroke="#222" stroke-width="0.35" textLength="22.3" lengthAdjust="spacingAndGlyphs">800</text>
<text x="267.2" y="408.8" font-size="14.6" font-family="Liberation Sans, sans-serif" fill="#222" stroke="#222" stroke-width="0.35" textLength="28.3" lengthAdjust="spacingAndGlyphs">1000</text>
<text x="388.9" y="408.8" font-size="14.6" font-family="Liberation Sans, sans-serif" fill="#222" stroke="#222" stroke-width="0.35" textLength="28.3" lengthAdjust="spacingAndGlyphs">1200</text>
<text x="510.5" y="408.8" font-size="14.6" font-family="Liberation Sans, sans-serif" fill="#222" stroke="#222" stroke-width="0.35" textLength="28.3" lengthAdjust="spacingAndGlyphs">1400</text>
<text x="632.2" y="408.8" font-size="14.6" font-family="Liberation Sans, sans-serif" fill="#222" stroke="#222" stroke-width="0.35" textLength="28.3" lengthAdjust="spacingAndGlyphs">1600</text>
<text x="753.9" y="408.8" font-size="14.6" font-family="Liberation Sans, sans-serif" fill="#222" stroke="#222" stroke-width="0.35" textLength="28.3" lengthAdjust="spacingAndGlyphs">1800</text>
<text x="731.5" y="163" font-size="22" font-family="Liberation Sans, sans-serif" font-weight="normal" fill="#4a3838" textLength="31.5" lengthAdjust="spacingAndGlyphs" >(iv)</text>
<text x="729" y="248.5" font-size="22" font-family="Liberation Sans, sans-serif" font-weight="normal" fill="#4a3838" textLength="29.0" lengthAdjust="spacingAndGlyphs" >(iii)</text>
<text x="733.7" y="336.5" font-size="22" font-family="Liberation Sans, sans-serif" font-weight="normal" fill="#4a3838" textLength="25.3" lengthAdjust="spacingAndGlyphs" >(ii)</text>
<text x="48.5" y="40.2" font-size="17.7" font-family="Liberation Serif, serif" font-weight="bold" fill="#111" textLength="542" lengthAdjust="spacingAndGlyphs">(a) Au NC with the spectra of (ii) A.3, (iii) Alpha, and (iv) Delta variants</text>
<rect x="243.2" y="552.3" width="13.9" height="259.9000000000001" fill="#fbd9d9"/>
<rect x="268.5" y="552.3" width="25.3" height="259.9000000000001" fill="#a9d9f8"/>
<rect x="346.5" y="552.3" width="25.3" height="259.9000000000001" fill="#a9d9f8"/>
<rect x="445.3" y="552.3" width="28.7" height="259.9000000000001" fill="#a9d9f8"/>
<rect x="526.3" y="552.3" width="39.7" height="259.9000000000001" fill="#fbd9d9"/>
<rect x="584.5" y="552.3" width="27.0" height="259.9000000000001" fill="#a9d9f8"/>
<rect x="696.5" y="552.3" width="61.2" height="259.9000000000001" fill="#fbd9d9"/>
<clipPath id="pk437"><rect x="243.2" y="552.3" width="13.9" height="259.9000000000001"/><rect x="526.3" y="552.3" width="39.7" height="259.9000000000001"/><rect x="696.5" y="552.3" width="61.2" height="259.9000000000001"/></clipPath>
<clipPath id="bl437"><rect x="268.5" y="552.3" width="25.3" height="259.9000000000001"/><rect x="346.5" y="552.3" width="25.3" height="259.9000000000001"/><rect x="445.3" y="552.3" width="28.7" height="259.9000000000001"/><rect x="584.5" y="552.3" width="27.0" height="259.9000000000001"/></clipPath>
<defs><path id="c_b_iv" d="M38.5,621.7 C39.0,621.0 40.7,619.9 41.8,617.6 C42.9,615.3 43.9,610.9 45.1,607.7 C46.3,604.6 48.1,599.8 49.2,598.7 C50.3,597.6 50.5,598.4 51.6,601.1 C52.7,603.8 54.3,612.4 55.7,615.1 C57.1,617.9 58.6,616.5 59.9,617.6 C61.1,618.7 62.0,619.8 63.2,621.7 C64.4,623.6 66.2,628.1 67.3,629.1 C68.4,630.1 68.8,628.6 69.7,627.5 C70.7,626.4 71.9,622.5 73.0,622.5 C74.1,622.5 75.1,626.0 76.3,627.5 C77.5,629.0 79.0,632.3 80.4,631.6 C81.8,630.9 83.3,625.9 84.5,623.4 C85.7,620.9 86.4,618.0 87.8,616.8 C89.2,615.5 91.4,615.5 92.8,615.9 C94.2,616.3 95.0,617.0 96.1,619.2 C97.2,621.4 98.5,627.6 99.4,629.1 C100.4,630.6 100.8,629.9 101.8,628.3 C102.8,626.6 103.9,621.1 105.1,619.2 C106.3,617.3 107.3,617.6 109.2,616.8 C111.1,616.0 114.9,615.3 116.6,614.3 C118.2,613.3 118.0,613.8 119.1,611.0 C120.2,608.2 121.8,599.7 123.2,597.8 C124.6,595.9 126.1,599.4 127.3,599.5 C128.5,599.6 129.4,598.2 130.6,598.7 C131.8,599.2 133.6,602.6 134.7,602.8 C135.8,603.0 136.1,599.7 137.2,599.8 C138.3,599.9 139.9,601.5 141.3,603.6 C142.7,605.8 144.2,609.6 145.4,612.7 C146.6,615.9 147.5,620.9 148.7,622.5 C149.9,624.1 151.3,622.1 152.8,622.5 C154.3,622.9 156.3,624.9 157.8,625.0 C159.3,625.1 161.0,623.2 161.9,622.9 C162.8,622.6 162.4,623.5 163.3,623.3 C164.2,623.1 166.2,621.0 167.4,621.6 C168.6,622.2 169.6,626.3 170.7,626.6 C171.8,626.9 172.9,626.2 174.0,623.3 C175.1,620.4 176.2,614.1 177.3,609.3 C178.4,604.5 179.7,598.1 180.6,594.5 C181.5,590.9 182.1,589.8 183.0,587.9 C183.9,586.0 185.2,585.2 186.3,583.0 C187.4,580.8 188.6,575.9 189.6,574.7 C190.6,573.5 191.1,574.8 192.1,575.6 C193.1,576.4 194.3,578.3 195.4,579.7 C196.5,581.1 197.3,580.6 198.7,583.8 C200.1,586.9 201.8,595.0 203.6,598.6 C205.4,602.2 207.6,603.8 209.4,605.2 C211.2,606.6 212.8,605.4 214.3,606.8 C215.8,608.2 217.0,611.6 218.4,613.4 C219.8,615.2 220.8,618.2 222.5,617.5 C224.2,616.8 226.7,610.7 228.3,609.3 C230.0,607.9 231.2,609.4 232.4,609.3 C233.6,609.2 234.2,606.6 235.7,608.5 C237.2,610.4 239.6,617.5 241.5,620.8 C243.4,624.1 245.1,628.5 247.2,628.2 C249.2,627.9 252.2,619.9 253.8,619.2 C255.5,618.5 256.0,622.3 257.1,624.1 C258.2,625.9 259.0,630.6 260.4,629.9 C261.8,629.2 263.2,623.4 265.3,620.0 C267.4,616.6 270.8,610.4 272.7,609.3 C274.6,608.2 275.4,613.1 276.8,613.4 C278.2,613.7 279.6,610.3 281.0,611.0 C282.4,611.7 283.8,617.2 285.0,617.5 C286.2,617.8 287.2,613.7 288.3,612.6 C289.4,611.5 290.4,611.0 291.6,611.0 C292.8,611.0 294.1,612.9 295.7,612.9 C297.3,612.9 299.7,611.6 301.5,611.0 C303.3,610.4 304.9,609.8 306.4,609.3 C307.9,608.8 309.3,607.4 310.5,607.7 C311.7,608.0 312.4,610.2 313.8,611.0 C315.2,611.8 317.2,611.0 318.7,612.6 C320.2,614.2 321.4,618.2 322.8,620.8 C324.2,623.4 325.5,629.6 327.0,628.2 C328.5,626.8 330.4,616.6 331.9,612.6 C333.4,608.6 334.5,604.8 336.0,604.4 C337.5,604.0 339.6,607.8 341.0,610.1 C342.4,612.4 343.0,616.9 344.2,618.4 C345.4,619.9 346.9,618.5 348.4,619.2 C349.9,619.9 351.7,622.9 353.3,622.5 C354.9,622.1 356.4,618.4 358.2,616.7 C360.0,615.1 362.4,615.3 364.0,612.6 C365.6,609.9 366.9,601.7 368.1,600.3 C369.3,598.9 370.3,602.1 371.4,604.4 C372.5,606.7 373.3,610.6 374.7,614.2 C376.1,617.8 378.1,623.6 379.6,625.8 C381.1,628.0 382.2,626.8 383.7,627.4 C385.2,628.0 387.0,630.8 388.7,629.1 C390.4,627.5 392.0,621.2 393.6,617.5 C395.2,613.8 397.0,609.5 398.5,606.8 C400.0,604.1 401.2,603.8 402.7,601.1 C404.2,598.4 406.1,591.6 407.6,590.4 C409.1,589.2 410.6,592.5 411.7,593.7 C412.8,594.9 413.2,595.8 414.1,597.8 C415.1,599.8 416.0,603.5 417.4,606.0 C418.8,608.5 420.8,610.1 422.3,612.6 C423.8,615.1 425.3,618.3 426.5,620.8 C427.7,623.3 428.6,626.8 429.7,627.4 C430.8,628.0 431.6,624.9 433.0,624.1 C434.4,623.3 436.4,622.0 438.0,622.5 C439.6,623.0 441.0,627.9 442.9,627.4 C444.8,626.9 447.6,620.4 449.5,619.2 C451.4,618.0 452.8,620.8 454.4,620.0 C456.0,619.2 457.6,616.4 459.4,614.2 C461.2,612.0 463.3,608.8 465.1,606.8 C466.9,604.8 468.9,601.8 470.1,601.9 C471.3,602.0 471.6,605.2 472.5,607.7 C473.4,610.2 474.2,613.6 475.8,616.7 C477.4,619.9 480.3,625.0 482.4,626.6 C484.5,628.2 486.7,626.2 488.2,626.6 C489.7,627.0 490.4,630.1 491.5,629.1 C492.6,628.1 493.5,624.1 494.7,620.8 C495.9,617.5 497.6,610.5 498.9,609.3 C500.1,608.1 500.8,610.6 502.2,613.4 C503.6,616.1 505.1,623.0 507.1,625.8 C509.2,628.5 512.6,630.4 514.5,629.9 C516.4,629.4 516.8,626.8 518.6,622.5 C520.4,618.2 523.3,609.1 525.2,604.4 C527.1,599.7 528.3,596.3 530.1,594.5 C531.9,592.7 534.5,594.1 535.9,593.7 C537.3,593.3 537.3,593.5 538.3,592.0 C539.3,590.5 540.8,584.9 541.9,584.6 C543.0,584.3 543.8,587.9 544.9,590.4 C546.0,592.9 546.8,596.2 548.2,599.4 C549.6,602.5 551.7,605.4 553.1,609.3 C554.5,613.1 555.3,618.9 556.4,622.5 C557.5,626.1 558.3,629.5 559.7,630.7 C561.1,631.9 563.1,631.0 564.6,629.9 C566.1,628.8 567.3,626.0 568.7,624.1 C570.1,622.2 571.3,620.3 572.8,618.4 C574.3,616.5 576.1,616.6 577.8,612.6 C579.4,608.6 581.1,599.7 582.7,594.5 C584.4,589.3 586.2,582.4 587.7,581.3 C589.2,580.2 590.3,583.8 591.8,587.9 C593.3,592.0 594.7,600.1 596.7,606.0 C598.8,611.9 602.2,621.2 604.1,623.3 C606.0,625.4 606.8,619.8 608.2,618.4 C609.6,617.0 610.9,614.7 612.3,615.1 C613.7,615.5 615.0,618.6 616.5,620.8 C618.0,623.0 619.8,626.6 621.4,628.2 C623.0,629.9 624.6,632.5 626.3,630.7 C627.9,628.9 629.8,624.4 631.3,617.5 C632.8,610.6 633.6,596.3 635.4,589.6 C637.2,582.9 640.1,577.5 642.0,577.2 C643.9,576.9 645.4,584.9 646.9,587.9 C648.4,590.9 649.8,594.9 651.0,595.3 C652.2,595.7 653.2,593.0 654.3,590.4 C655.4,587.8 656.5,579.0 657.6,579.7 C658.7,580.4 659.9,588.9 660.9,594.5 C661.9,600.1 662.8,607.7 663.9,613.5 C665.0,619.3 666.2,627.9 667.5,629.4 C668.8,630.9 670.0,625.2 671.9,622.3 C673.8,619.3 677.1,614.7 679.0,611.7 C680.9,608.8 682.1,605.3 683.4,604.6 C684.7,603.9 685.8,606.3 687.0,607.3 C688.2,608.3 688.9,612.0 690.5,610.8 C692.1,609.6 694.5,602.6 696.7,600.2 C698.9,597.8 702.0,597.2 703.8,596.6 C705.6,596.0 705.5,599.1 707.3,596.6 C709.1,594.1 712.2,586.3 714.4,581.6 C716.6,576.9 718.8,569.8 720.6,568.3 C722.4,566.8 723.5,570.2 725.1,572.7 C726.7,575.2 728.6,579.9 730.4,583.4 C732.2,586.9 733.9,589.9 735.7,594.0 C737.5,598.1 739.2,604.1 741.0,608.2 C742.8,612.3 744.5,615.8 746.3,618.8 C748.1,621.8 749.8,623.8 751.6,625.9 C753.4,628.0 755.2,632.4 757.0,631.2 C758.8,630.0 760.5,623.4 762.3,618.8 C764.1,614.2 766.7,606.2 767.6,603.7"/></defs>
<use href="#c_b_iv" fill="none" stroke="#1f7a45" stroke-width="1.75" stroke-linejoin="round" stroke-linecap="round"/>
<use href="#c_b_iv" fill="none" stroke="#6e6a3c" stroke-width="1.75" stroke-linejoin="round" stroke-linecap="round" clip-path="url(#pk437)"/>
<use href="#c_b_iv" fill="none" stroke="#1a6e6a" stroke-width="1.75" stroke-linejoin="round" stroke-linecap="round" clip-path="url(#bl437)"/>
<defs><path id="c_b_iii" d="M38.5,695.8 C38.9,695.2 39.9,695.0 40.9,692.5 C41.9,690.0 43.1,684.0 44.2,681.0 C45.3,678.0 46.5,675.2 47.5,674.4 C48.5,673.6 49.0,673.6 50.0,676.1 C51.0,678.6 52.3,686.5 53.3,689.2 C54.2,691.9 54.6,691.5 55.7,692.2 C56.8,692.9 58.6,692.0 59.9,693.4 C61.1,694.8 62.1,698.3 63.2,700.8 C64.3,703.3 65.3,707.7 66.4,708.2 C67.5,708.7 68.6,705.5 69.7,704.0 C70.8,702.5 71.9,699.0 73.0,699.1 C74.1,699.2 75.2,703.7 76.3,704.9 C77.4,706.1 78.4,707.7 79.6,706.5 C80.8,705.3 82.5,700.0 83.7,697.5 C84.9,695.0 85.3,692.5 87.0,691.7 C88.7,690.9 91.5,691.0 93.6,692.5 C95.7,694.0 97.5,700.6 99.4,700.8 C101.3,700.9 103.3,695.2 105.1,693.4 C106.9,691.6 108.3,690.4 110.0,690.1 C111.7,689.8 113.1,694.2 115.0,691.7 C116.9,689.2 119.8,677.6 121.6,675.3 C123.4,673.0 124.3,677.6 125.7,677.7 C127.1,677.8 128.4,675.7 129.8,676.1 C131.2,676.5 132.7,680.2 133.9,680.2 C135.1,680.2 136.0,676.0 137.2,676.1 C138.4,676.2 139.5,677.0 141.3,681.0 C143.1,685.0 146.2,696.8 147.9,699.9 C149.6,703.0 149.8,699.4 151.2,699.9 C152.6,700.4 154.4,702.7 156.1,702.7 C157.8,702.7 159.8,700.8 161.1,699.9 C162.4,699.0 163.0,698.2 164.1,697.5 C165.2,696.8 166.4,695.2 167.4,695.8 C168.4,696.3 168.9,700.1 169.9,700.8 C170.9,701.5 172.0,703.5 173.2,699.9 C174.4,696.3 175.8,685.3 177.3,679.4 C178.8,673.5 180.7,667.8 182.2,664.6 C183.7,661.4 185.1,662.2 186.3,660.4 C187.5,658.6 188.3,654.6 189.3,653.9 C190.3,653.2 191.1,654.9 192.1,656.3 C193.1,657.7 194.3,660.5 195.4,662.1 C196.5,663.8 197.6,663.3 198.7,666.2 C199.8,669.1 200.4,675.3 202.0,679.4 C203.6,683.5 206.6,688.7 208.5,690.9 C210.4,693.1 212.0,690.9 213.5,692.5 C215.0,694.1 216.2,698.5 217.6,700.8 C219.0,703.1 220.0,707.0 221.7,706.5 C223.3,706.0 225.7,699.4 227.5,697.5 C229.3,695.6 231.0,695.4 232.4,695.0 C233.8,694.6 234.3,693.6 235.7,695.0 C237.1,696.4 238.8,700.9 240.6,703.2 C242.4,705.5 244.9,708.7 246.4,709.0 C247.9,709.3 248.5,707.1 249.7,704.9 C250.9,702.7 252.2,695.8 253.8,695.8 C255.5,695.8 258.0,704.3 259.6,704.9 C261.2,705.5 261.6,701.3 263.7,699.1 C265.8,696.9 269.7,692.1 271.9,691.7 C274.1,691.3 275.3,695.9 276.8,696.6 C278.3,697.3 279.6,694.7 281.0,695.8 C282.4,696.9 283.4,702.7 285.0,703.2 C286.6,703.8 289.2,699.2 290.8,699.1 C292.4,699.0 293.4,702.1 294.9,702.4 C296.4,702.7 298.3,700.7 299.8,700.8 C301.3,700.9 302.2,703.3 303.9,703.2 C305.5,703.1 308.0,700.8 309.7,700.4 C311.4,700.0 312.1,701.4 313.8,700.8 C315.5,700.2 317.7,696.2 319.6,696.6 C321.5,697.0 323.7,703.9 325.3,703.2 C326.9,702.5 327.8,696.5 329.4,692.5 C331.0,688.5 333.4,680.5 335.2,679.4 C337.0,678.3 338.6,683.4 340.1,685.9 C341.6,688.4 342.8,693.2 344.2,694.2 C345.6,695.2 346.8,693.2 348.4,691.7 C350.0,690.2 352.6,686.1 354.1,685.1 C355.6,684.1 356.3,685.1 357.4,685.9 C358.5,686.7 359.6,690.0 360.7,690.1 C361.8,690.2 362.8,688.9 364.0,686.8 C365.2,684.7 366.7,677.9 368.1,677.7 C369.5,677.6 370.8,682.9 372.2,685.9 C373.6,688.9 374.9,692.5 376.3,695.8 C377.7,699.1 379.0,704.1 380.4,705.7 C381.8,707.3 383.2,705.1 384.6,705.4 C386.0,705.7 387.2,709.0 388.7,707.3 C390.2,705.6 391.8,699.0 393.6,695.0 C395.4,691.0 397.9,686.0 399.4,683.5 C400.9,681.0 401.3,682.7 402.7,680.2 C404.1,677.7 406.1,669.9 407.6,668.7 C409.1,667.5 410.6,671.3 411.7,672.8 C412.8,674.3 413.0,675.5 414.1,677.7 C415.2,679.9 416.8,683.7 418.2,686.0 C419.6,688.3 420.9,689.5 422.3,691.7 C423.7,693.9 425.1,696.8 426.5,699.1 C427.9,701.4 429.2,704.7 430.6,705.7 C432.0,706.7 433.3,704.9 434.7,704.9 C436.1,704.9 437.4,705.0 438.8,706.0 C440.2,707.0 441.1,710.6 442.9,710.6 C444.7,710.6 447.6,705.7 449.5,705.7 C451.4,705.7 452.8,710.7 454.4,710.6 C456.0,710.5 457.6,707.5 459.4,704.9 C461.2,702.3 463.3,698.6 465.1,695.0 C466.9,691.4 468.7,684.7 470.1,683.5 C471.5,682.3 472.3,685.7 473.4,687.6 C474.5,689.5 475.1,692.8 476.6,695.0 C478.1,697.2 480.5,700.7 482.4,700.8 C484.3,700.9 486.5,696.2 488.2,695.8 C489.9,695.4 491.1,699.1 492.3,698.3 C493.5,697.5 494.4,693.6 495.6,690.9 C496.8,688.1 498.5,682.5 499.7,681.8 C500.9,681.1 501.8,683.6 503.0,686.8 C504.2,690.0 505.3,697.6 507.1,700.8 C508.9,703.9 511.8,706.0 513.7,705.7 C515.6,705.4 516.7,703.5 518.6,699.1 C520.5,694.7 523.0,684.2 525.2,679.4 C527.4,674.6 529.9,671.8 531.8,670.3 C533.7,668.8 535.6,670.7 536.7,670.3 C537.8,669.9 537.3,669.0 538.3,667.8 C539.2,666.6 541.2,662.9 542.4,662.9 C543.5,662.9 544.2,665.3 545.2,667.8 C546.2,670.3 546.9,675.0 548.2,677.7 C549.5,680.5 551.7,681.3 553.1,684.3 C554.5,687.3 555.3,692.0 556.4,695.8 C557.5,699.6 558.3,705.4 559.7,707.3 C561.1,709.2 563.1,708.4 564.6,707.3 C566.1,706.2 567.3,703.0 568.7,700.8 C570.1,698.6 571.3,696.1 572.8,694.2 C574.3,692.3 576.1,693.1 577.8,689.2 C579.4,685.4 581.1,676.4 582.7,671.1 C584.4,665.8 586.2,658.6 587.7,657.2 C589.2,655.8 590.3,659.2 591.8,662.9 C593.3,666.6 594.5,673.2 596.7,679.4 C598.9,685.6 602.6,697.6 604.9,699.9 C607.2,702.2 609.2,694.2 610.7,693.4 C612.2,692.6 612.6,693.4 614.0,695.0 C615.4,696.6 617.0,700.7 618.9,703.2 C620.8,705.7 623.7,709.5 625.5,709.8 C627.3,710.1 628.0,711.9 629.6,704.9 C631.2,697.9 633.3,675.8 635.4,667.8 C637.5,659.8 640.1,656.9 642.0,657.2 C643.9,657.5 645.3,666.6 646.9,669.5 C648.5,672.4 650.4,674.7 651.8,674.4 C653.2,674.1 654.1,670.7 655.1,667.8 C656.1,664.9 656.6,657.6 657.6,657.2 C658.6,656.8 659.7,659.6 660.9,665.4 C662.1,671.2 663.7,685.4 664.8,692.0 C665.9,698.6 666.3,703.8 667.5,705.3 C668.7,706.8 670.3,703.3 671.9,700.9 C673.5,698.5 675.6,693.5 677.2,691.1 C678.8,688.7 680.3,688.6 681.6,686.7 C682.9,684.8 683.9,680.2 685.2,679.6 C686.5,679.0 687.5,684.4 689.6,683.2 C691.7,682.0 694.9,675.0 697.6,672.5 C700.3,670.0 703.4,669.7 705.6,668.1 C707.8,666.5 709.1,665.6 710.9,662.8 C712.7,660.0 714.3,655.4 716.2,651.3 C718.1,647.2 720.6,639.8 722.4,638.0 C724.2,636.2 724.9,637.8 726.8,640.6 C728.7,643.4 731.8,649.9 733.9,654.8 C736.0,659.7 737.1,665.5 739.2,669.9 C741.3,674.3 744.2,677.9 746.3,681.4 C748.4,684.9 749.7,688.9 751.6,691.1 C753.5,693.3 755.9,696.0 757.8,694.7 C759.7,693.4 761.6,687.1 763.2,683.2 C764.8,679.4 766.9,673.5 767.6,671.6"/></defs>
<use href="#c_b_iii" fill="none" stroke="#e8343c" stroke-width="1.45" stroke-linejoin="round" stroke-linecap="round"/>
<use href="#c_b_iii" fill="none" stroke="#e0403c" stroke-width="1.45" stroke-linejoin="round" stroke-linecap="round" clip-path="url(#pk437)"/>
<use href="#c_b_iii" fill="none" stroke="#b8508a" stroke-width="1.45" stroke-linejoin="round" stroke-linecap="round" clip-path="url(#bl437)"/>
<defs><path id="c_b_ii" d="M38.0,764.3 C38.4,763.2 39.2,759.7 40.1,757.7 C41.0,755.7 42.2,753.1 43.4,752.5 C44.6,751.9 46.1,753.8 47.5,754.1 C48.9,754.4 50.1,753.0 51.6,754.4 C53.1,755.8 55.1,760.6 56.6,762.7 C58.1,764.8 59.5,764.3 60.7,766.8 C61.9,769.3 62.9,774.2 64.0,777.5 C65.1,780.8 66.1,785.4 67.3,786.5 C68.5,787.6 70.0,784.2 71.4,784.0 C72.8,783.8 74.1,786.4 75.5,785.4 C76.9,784.4 78.4,778.4 79.6,778.3 C80.8,778.2 81.8,782.2 82.9,784.9 C84.0,787.6 85.1,794.0 86.2,794.7 C87.3,795.4 88.4,792.7 89.5,789.0 C90.6,785.3 91.8,777.0 92.8,772.5 C93.8,768.0 94.6,762.8 95.6,762.3 C96.5,761.8 97.5,767.1 98.5,769.2 C99.5,771.3 100.4,773.9 101.8,775.0 C103.2,776.1 105.3,775.1 106.8,775.8 C108.3,776.5 109.5,777.2 110.9,779.1 C112.3,781.0 113.8,784.7 115.0,787.3 C116.2,789.9 117.1,795.8 118.3,794.7 C119.5,793.6 121.0,784.5 122.4,780.8 C123.8,777.1 125.1,777.2 126.5,772.5 C127.9,767.8 129.4,757.3 130.6,752.8 C131.8,748.3 132.7,748.3 133.9,745.4 C135.1,742.5 136.8,736.7 138.0,735.5 C139.2,734.3 140.2,734.9 141.3,738.0 C142.4,741.1 143.5,748.1 144.6,754.4 C145.7,760.7 146.8,771.7 147.9,775.8 C149.0,779.9 150.0,778.3 151.2,779.1 C152.4,779.9 153.7,781.2 155.3,780.4 C157.0,779.6 159.6,775.7 161.1,774.2 C162.6,772.8 162.8,772.3 164.1,771.7 C165.4,771.1 167.9,770.5 169.1,770.6 C170.3,770.7 170.6,771.0 171.5,772.5 C172.4,774.0 173.7,777.7 174.8,779.9 C175.9,782.1 177.1,785.6 178.1,785.7 C179.1,785.9 179.8,784.2 180.6,780.8 C181.4,777.4 182.1,768.4 183.0,765.1 C183.9,761.8 185.2,762.8 186.3,761.0 C187.4,759.2 188.5,756.4 189.6,754.4 C190.7,752.4 191.7,749.5 192.9,749.0 C194.1,748.5 195.9,749.4 197.0,751.1 C198.1,752.8 198.4,754.2 199.5,759.4 C200.6,764.6 202.2,779.1 203.6,782.4 C205.0,785.7 206.2,781.3 207.7,779.1 C209.2,776.9 211.2,771.9 212.7,769.2 C214.2,766.5 215.7,763.5 216.8,762.7 C217.9,761.9 218.0,766.2 219.2,764.3 C220.4,762.4 222.7,754.9 224.2,751.1 C225.7,747.3 226.9,742.4 228.0,741.6 C229.1,740.8 229.8,744.1 230.8,746.2 C231.8,748.3 232.8,751.6 234.0,754.4 C235.2,757.1 236.9,760.5 238.2,762.7 C239.4,764.9 240.3,767.6 241.5,767.6 C242.7,767.6 244.0,763.2 245.6,762.7 C247.2,762.2 249.7,763.1 251.3,764.3 C252.9,765.5 253.9,767.8 255.4,770.1 C256.9,772.4 258.3,775.8 260.4,778.3 C262.5,780.8 265.6,785.3 267.8,784.9 C270.0,784.5 272.1,776.3 273.5,775.8 C274.9,775.2 274.6,780.8 276.0,781.6 C277.4,782.4 280.3,780.8 281.8,780.8 C283.3,780.8 283.5,781.2 285.0,781.6 C286.5,782.0 289.3,783.3 290.8,783.2 C292.3,783.1 293.2,782.4 294.1,780.8 C295.1,779.2 295.4,775.5 296.5,773.4 C297.6,771.3 299.0,768.5 300.6,768.4 C302.2,768.2 304.9,770.9 306.4,772.5 C307.9,774.1 308.5,777.2 309.7,778.3 C310.9,779.4 312.3,778.7 313.8,779.1 C315.3,779.5 316.6,780.0 318.7,780.8 C320.8,781.6 323.9,784.7 326.1,784.0 C328.3,783.3 330.4,777.3 331.9,776.6 C333.4,775.9 333.8,780.0 335.2,779.9 C336.6,779.8 338.5,775.2 340.1,775.8 C341.8,776.3 343.3,782.1 345.1,783.2 C346.9,784.3 349.0,783.2 350.8,782.4 C352.6,781.6 354.2,779.1 355.8,778.3 C357.4,777.5 359.1,779.5 360.7,777.5 C362.3,775.5 364.2,766.8 365.6,766.0 C367.0,765.2 367.7,770.3 368.9,772.5 C370.1,774.7 371.4,778.6 373.0,779.1 C374.6,779.6 377.0,775.5 378.8,775.8 C380.6,776.1 382.1,779.0 383.7,780.8 C385.3,782.6 386.9,787.9 388.7,786.5 C390.5,785.1 392.5,777.0 394.4,772.5 C396.3,768.0 398.3,763.2 400.2,759.4 C402.1,755.6 404.2,750.2 405.9,749.5 C407.5,748.8 408.5,754.1 410.1,755.3 C411.8,756.5 414.0,757.6 415.8,756.9 C417.6,756.1 419.2,750.7 420.7,750.8 C422.2,750.9 423.6,753.5 424.8,757.7 C426.0,761.9 427.1,772.6 428.1,775.8 C429.1,778.9 429.6,779.6 430.6,776.6 C431.6,773.6 432.8,763.3 433.9,757.7 C435.0,752.1 436.0,746.0 437.2,742.9 C438.4,739.8 440.2,738.7 441.3,738.8 C442.4,738.9 442.8,743.2 443.7,743.7 C444.6,744.2 445.9,743.3 447.0,742.1 C448.1,740.9 449.2,736.3 450.3,736.3 C451.4,736.3 452.4,739.6 453.6,742.1 C454.8,744.6 456.5,749.1 457.7,751.1 C458.9,753.1 459.8,753.2 461.0,754.4 C462.2,755.6 463.5,759.4 465.1,758.5 C466.8,757.6 469.0,748.5 470.9,749.2 C472.8,749.9 474.8,758.8 476.6,762.7 C478.4,766.6 479.8,768.4 481.6,772.5 C483.4,776.6 485.2,787.0 487.3,787.3 C489.4,787.6 492.2,778.9 493.9,774.2 C495.5,769.6 496.0,762.7 497.2,759.4 C498.4,756.1 499.6,753.8 501.3,754.4 C503.0,755.0 505.2,763.7 507.1,762.7 C509.0,761.8 511.0,750.9 512.8,748.7 C514.6,746.5 516.1,751.1 517.8,749.5 C519.4,747.9 521.5,739.1 522.7,738.8 C523.9,738.5 523.7,742.2 525.2,747.8 C526.7,753.4 529.9,766.7 531.8,772.5 C533.7,778.3 535.6,780.8 536.7,782.4 C537.8,784.0 537.2,784.7 538.3,782.4 C539.4,780.1 541.7,770.0 543.2,768.4 C544.7,766.8 545.6,773.2 547.3,772.5 C548.9,771.8 551.5,764.0 553.1,764.3 C554.8,764.6 556.0,771.2 557.2,774.2 C558.4,777.2 559.4,780.9 560.5,782.4 C561.6,783.9 562.7,784.6 563.8,783.2 C564.9,781.8 565.9,777.1 567.1,774.2 C568.3,771.3 569.6,765.2 571.2,766.0 C572.9,766.8 575.4,777.9 577.0,779.1 C578.6,780.3 579.7,775.9 581.1,773.4 C582.5,770.9 583.8,766.2 585.2,764.3 C586.6,762.4 588.1,764.1 589.3,761.8 C590.5,759.5 591.5,753.0 592.6,750.3 C593.7,747.6 594.7,746.1 595.9,745.4 C597.1,744.7 598.9,744.8 600.0,746.2 C601.1,747.6 601.3,752.5 602.5,753.6 C603.7,754.7 605.9,750.5 607.4,752.8 C608.9,755.1 610.1,763.8 611.5,767.6 C612.9,771.4 614.1,772.6 615.6,775.8 C617.1,778.9 618.4,784.9 620.6,786.5 C622.8,788.1 626.6,789.7 628.8,785.7 C631.0,781.7 632.2,769.8 633.7,762.7 C635.2,755.6 636.4,747.1 637.8,742.9 C639.2,738.6 640.2,734.9 642.0,737.2 C643.8,739.5 646.6,756.0 648.5,756.9 C650.4,757.8 651.9,748.8 653.5,742.9 C655.1,737.0 656.7,723.4 658.1,721.5 C659.5,719.6 660.6,727.4 661.7,731.4 C662.8,735.4 663.5,740.1 664.8,745.4 C666.0,750.7 667.6,757.0 669.2,763.2 C670.8,769.4 673.0,779.3 674.6,782.7 C676.2,786.1 677.7,783.6 679.0,783.5 C680.3,783.4 681.2,784.6 682.5,781.8 C683.8,779.0 685.7,770.1 687.0,766.7 C688.3,763.3 689.3,764.6 690.5,761.4 C691.7,758.1 692.8,750.6 694.0,747.2 C695.2,743.8 696.3,742.0 697.6,741.0 C698.9,740.0 700.4,739.5 702.0,741.0 C703.6,742.5 705.8,748.1 707.3,749.9 C708.8,751.7 709.7,752.4 710.9,751.6 C712.1,750.9 713.1,746.6 714.4,745.4 C715.7,744.2 717.6,748.1 718.9,744.6 C720.2,741.1 721.4,727.6 722.4,724.2 C723.4,720.8 724.1,723.0 725.1,724.2 C726.1,725.4 727.1,728.3 728.6,731.3 C730.1,734.2 732.0,735.7 733.9,741.9 C735.8,748.1 738.3,764.5 740.1,768.5 C741.9,772.5 743.1,764.9 744.6,765.8 C746.1,766.7 747.5,772.9 749.0,773.8 C750.5,774.7 751.9,769.5 753.4,771.1 C754.9,772.7 756.3,781.3 757.8,783.5 C759.3,785.7 761.0,786.3 762.3,784.4 C763.6,782.5 764.8,775.8 765.8,772.0 C766.8,768.2 768.0,763.2 768.5,761.4"/></defs>
<use href="#c_b_ii" fill="none" stroke="#a8603a" stroke-width="1.45" stroke-linejoin="round" stroke-linecap="round"/>
<use href="#c_b_ii" fill="none" stroke="#9c5a3a" stroke-width="1.45" stroke-linejoin="round" stroke-linecap="round" clip-path="url(#pk437)"/>
<use href="#c_b_ii" fill="none" stroke="#6a6470" stroke-width="1.45" stroke-linejoin="round" stroke-linecap="round" clip-path="url(#bl437)"/>
<line x1="50.7" y1="506" x2="50.7" y2="812.2" stroke="#454545" stroke-width="1.4"/>
<line x1="75.2" y1="506" x2="75.2" y2="812.2" stroke="#454545" stroke-width="1.4"/>
<line x1="182.3" y1="506" x2="182.3" y2="812.2" stroke="#454545" stroke-width="1.4"/>
<line x1="198.8" y1="506" x2="198.8" y2="812.2" stroke="#454545" stroke-width="1.4"/>
<line x1="232.5" y1="506" x2="232.5" y2="812.2" stroke="#454545" stroke-width="1.4"/>
<line x1="274.3" y1="506" x2="274.3" y2="812.2" stroke="#454545" stroke-width="1.4"/>
<line x1="274.3" y1="552.3" x2="274.3" y2="812.2" stroke="#1d4a68" stroke-width="1.4"/>
<line x1="286.2" y1="506" x2="286.2" y2="812.2" stroke="#454545" stroke-width="1.4"/>
<line x1="286.2" y1="552.3" x2="286.2" y2="812.2" stroke="#1d4a68" stroke-width="1.4"/>
<line x1="346" y1="506" x2="346" y2="812.2" stroke="#454545" stroke-width="1.4"/>
<line x1="346" y1="552.3" x2="346" y2="812.2" stroke="#1d4a68" stroke-width="1.4"/>
<line x1="354" y1="526" x2="354" y2="812.2" stroke="#454545" stroke-width="1.4"/>
<line x1="354" y1="552.3" x2="354" y2="812.2" stroke="#1d4a68" stroke-width="1.4"/>
<line x1="364.7" y1="506" x2="364.7" y2="812.2" stroke="#454545" stroke-width="1.4"/>
<line x1="364.7" y1="552.3" x2="364.7" y2="812.2" stroke="#1d4a68" stroke-width="1.4"/>
<line x1="408.8" y1="506" x2="408.8" y2="812.2" stroke="#111" stroke-width="1.7"/>
<line x1="451.6" y1="506" x2="451.6" y2="812.2" stroke="#454545" stroke-width="1.4"/>
<line x1="451.6" y1="552.3" x2="451.6" y2="812.2" stroke="#1d4a68" stroke-width="1.4"/>
<line x1="467.3" y1="526" x2="467.3" y2="812.2" stroke="#454545" stroke-width="1.4"/>
<line x1="467.3" y1="552.3" x2="467.3" y2="812.2" stroke="#1d4a68" stroke-width="1.4"/>
<line x1="497.2" y1="506" x2="497.2" y2="812.2" stroke="#454545" stroke-width="1.4"/>
<line x1="525.1" y1="506" x2="525.1" y2="812.2" stroke="#454545" stroke-width="1.4"/>
<line x1="590.6" y1="526" x2="590.6" y2="812.2" stroke="#454545" stroke-width="1.4"/>
<line x1="590.6" y1="552.3" x2="590.6" y2="812.2" stroke="#1d4a68" stroke-width="1.4"/>
<line x1="612" y1="506" x2="612" y2="812.2" stroke="#454545" stroke-width="1.4"/>
<line x1="612" y1="552.3" x2="612" y2="812.2" stroke="#1d4a68" stroke-width="1.4"/>
<line x1="642.1" y1="526" x2="642.1" y2="812.2" stroke="#454545" stroke-width="1.4"/>
<line x1="657.5" y1="506" x2="657.5" y2="812.2" stroke="#454545" stroke-width="1.4"/>
<line x1="251" y1="543" x2="251" y2="813.7" stroke="#ee1c1c" stroke-width="1.8"/>
<line x1="545.3" y1="543" x2="545.3" y2="813.7" stroke="#ee1c1c" stroke-width="1.8"/>
<line x1="721" y1="543" x2="721" y2="813.7" stroke="#ee1c1c" stroke-width="1.8"/>
<line x1="569" y1="552.7" x2="569" y2="559.6" stroke="#1b7fcc" stroke-width="2.3"/>
<line x1="569" y1="562.3" x2="569" y2="812.2" stroke="#1b7fcc" stroke-width="2.3" stroke-dasharray="11 4.07"/>
<line x1="98.0" y1="808.7" x2="98.0" y2="812.2" stroke="#222" stroke-width="1.5"/>
<line x1="159.0" y1="806.2" x2="159.0" y2="812.2" stroke="#222" stroke-width="1.5"/>
<line x1="220.1" y1="808.7" x2="220.1" y2="812.2" stroke="#222" stroke-width="1.5"/>
<line x1="281.1" y1="806.2" x2="281.1" y2="812.2" stroke="#222" stroke-width="1.5"/>
<line x1="342.2" y1="808.7" x2="342.2" y2="812.2" stroke="#222" stroke-width="1.5"/>
<line x1="403.2" y1="806.2" x2="403.2" y2="812.2" stroke="#222" stroke-width="1.5"/>
<line x1="464.3" y1="808.7" x2="464.3" y2="812.2" stroke="#222" stroke-width="1.5"/>
<line x1="525.4" y1="806.2" x2="525.4" y2="812.2" stroke="#222" stroke-width="1.5"/>
<line x1="586.4" y1="808.7" x2="586.4" y2="812.2" stroke="#222" stroke-width="1.5"/>
<line x1="647.5" y1="806.2" x2="647.5" y2="812.2" stroke="#222" stroke-width="1.5"/>
<line x1="708.5" y1="808.7" x2="708.5" y2="812.2" stroke="#222" stroke-width="1.5"/>
<rect x="36.9" y="437" width="732.7" height="375.20000000000005" fill="none" stroke="#111" stroke-width="2.4"/>
<text x="43.6" y="502.9" font-size="18" font-family="Liberation Serif, serif" font-weight="normal" fill="#2a2a2a" textLength="19.7" lengthAdjust="spacingAndGlyphs" >s’1</text>
<text x="66.4" y="502.9" font-size="18" font-family="Liberation Serif, serif" font-weight="normal" fill="#2a2a2a" textLength="22.2" lengthAdjust="spacingAndGlyphs" >s’2</text>
<text x="164.6" y="502.9" font-size="18" font-family="Liberation Serif, serif" font-weight="normal" fill="#2a2a2a" textLength="21.4" lengthAdjust="spacingAndGlyphs" >s’3</text>
<text x="186" y="502.9" font-size="18" font-family="Liberation Serif, serif" font-weight="normal" fill="#2a2a2a" textLength="21.1" lengthAdjust="spacingAndGlyphs" >s’4</text>
<text x="221.8" y="502.9" font-size="18" font-family="Liberation Serif, serif" font-weight="normal" fill="#2a2a2a" textLength="20.2" lengthAdjust="spacingAndGlyphs" >s’5</text>
<text x="259.1" y="502.9" font-size="18" font-family="Liberation Serif, serif" font-weight="normal" fill="#2a2a2a" textLength="21.5" lengthAdjust="spacingAndGlyphs" >s’6</text>
<text x="281.9" y="502.9" font-size="18" font-family="Liberation Serif, serif" font-weight="normal" fill="#2a2a2a" textLength="21.5" lengthAdjust="spacingAndGlyphs" >s’7</text>
<text x="325" y="502.9" font-size="18" font-family="Liberation Serif, serif" font-weight="normal" fill="#2a2a2a" textLength="21.5" lengthAdjust="spacingAndGlyphs" >s’8</text>
<text x="357" y="502.9" font-size="18" font-family="Liberation Serif, serif" font-weight="normal" fill="#2a2a2a" textLength="21.0" lengthAdjust="spacingAndGlyphs" >s’9</text>
<text x="392" y="502.9" font-size="18" font-family="Liberation Serif, serif" font-weight="normal" fill="#2a2a2a" textLength="31.7" lengthAdjust="spacingAndGlyphs" >s’10</text>
<text x="435.7" y="502.9" font-size="18" font-family="Liberation Serif, serif" font-weight="normal" fill="#2a2a2a" textLength="27.3" lengthAdjust="spacingAndGlyphs" >s’11</text>
<text x="456.7" y="521.6" font-size="18" font-family="Liberation Serif, serif" font-weight="normal" fill="#2a2a2a" textLength="30.3" lengthAdjust="spacingAndGlyphs" >s’12</text>
<text x="481.5" y="502.9" font-size="18" font-family="Liberation Serif, serif" font-weight="normal" fill="#2a2a2a" textLength="29.1" lengthAdjust="spacingAndGlyphs" >s’13</text>
<text x="515.4" y="502.9" font-size="18" font-family="Liberation Serif, serif" font-weight="normal" fill="#2a2a2a" textLength="29.9" lengthAdjust="spacingAndGlyphs" >s’14</text>
<text x="569.9" y="522" font-size="18" font-family="Liberation Serif, serif" font-weight="normal" fill="#2a2a2a" textLength="30.4" lengthAdjust="spacingAndGlyphs" >s’15</text>
<text x="597" y="502.9" font-size="18" font-family="Liberation Serif, serif" font-weight="normal" fill="#2a2a2a" textLength="30.7" lengthAdjust="spacingAndGlyphs" >s’16</text>
<text x="625.4" y="522.2" font-size="18" font-family="Liberation Serif, serif" font-weight="normal" fill="#2a2a2a" textLength="29.8" lengthAdjust="spacingAndGlyphs" >s’17</text>
<text x="647.7" y="502.9" font-size="18" font-family="Liberation Serif, serif" font-weight="normal" fill="#2a2a2a" textLength="29.8" lengthAdjust="spacingAndGlyphs" >s’18</text>
<text x="240" y="531.5" font-size="18" font-family="Liberation Serif, serif" font-weight="normal" fill="#2a2a2a" textLength="21.6" lengthAdjust="spacingAndGlyphs" >L’1</text>
<text x="537" y="531.5" font-size="18" font-family="Liberation Serif, serif" font-weight="normal" fill="#2a2a2a" textLength="22.2" lengthAdjust="spacingAndGlyphs" >L’2</text>
<text x="710.9" y="539.5" font-size="18" font-family="Liberation Serif, serif" font-weight="normal" fill="#2a2a2a" textLength="22.1" lengthAdjust="spacingAndGlyphs" >L’3</text>
<line x1="354.50" y1="512.70" x2="354.50" y2="520.30" stroke="#2a2a2a" stroke-width="1.7" stroke-linecap="round"/>
<line x1="351.21" y1="514.60" x2="357.79" y2="518.40" stroke="#2a2a2a" stroke-width="1.7" stroke-linecap="round"/>
<line x1="357.79" y1="514.60" x2="351.21" y2="518.40" stroke="#2a2a2a" stroke-width="1.7" stroke-linecap="round"/>
<text x="555.4" y="549.5" font-size="11.5" font-family="Liberation Serif, serif" font-weight="bold" fill="#1c1c1c" textLength="22.8" lengthAdjust="spacingAndGlyphs" >1477</text>
<text x="660.3" y="549.2" font-size="11.5" font-family="Liberation Serif, serif" font-weight="bold" fill="#1c1c1c" textLength="51.5" lengthAdjust="spacingAndGlyphs" >1640-1678</text>
<path d="M667,560.5 L667,552.5 L693,552.5 L693,560.5" fill="none" stroke="#1b7fcc" stroke-width="2.2"/>
<text x="25.8" y="830.9" font-size="14.6" font-family="Liberation Sans, sans-serif" fill="#222" stroke="#222" stroke-width="0.35" textLength="22.3" lengthAdjust="spacingAndGlyphs">600</text>
<text x="147.9" y="830.9" font-size="14.6" font-family="Liberation Sans, sans-serif" fill="#222" stroke="#222" stroke-width="0.35" textLength="22.3" lengthAdjust="spacingAndGlyphs">800</text>
<text x="267.0" y="830.9" font-size="14.6" font-family="Liberation Sans, sans-serif" fill="#222" stroke="#222" stroke-width="0.35" textLength="28.3" lengthAdjust="spacingAndGlyphs">1000</text>
<text x="389.1" y="830.9" font-size="14.6" font-family="Liberation Sans, sans-serif" fill="#222" stroke="#222" stroke-width="0.35" textLength="28.3" lengthAdjust="spacingAndGlyphs">1200</text>
<text x="511.2" y="830.9" font-size="14.6" font-family="Liberation Sans, sans-serif" fill="#222" stroke="#222" stroke-width="0.35" textLength="28.3" lengthAdjust="spacingAndGlyphs">1400</text>
<text x="633.3" y="830.9" font-size="14.6" font-family="Liberation Sans, sans-serif" fill="#222" stroke="#222" stroke-width="0.35" textLength="28.3" lengthAdjust="spacingAndGlyphs">1600</text>
<text x="755.5" y="830.9" font-size="14.6" font-family="Liberation Sans, sans-serif" fill="#222" stroke="#222" stroke-width="0.35" textLength="28.3" lengthAdjust="spacingAndGlyphs">1800</text>
<text x="725" y="581.5" font-size="22" font-family="Liberation Sans, sans-serif" font-weight="normal" fill="#4a3838" textLength="36.5" lengthAdjust="spacingAndGlyphs" >(iv’)</text>
<text x="726.7" y="656.5" font-size="22" font-family="Liberation Sans, sans-serif" font-weight="normal" fill="#4a3838" textLength="33.3" lengthAdjust="spacingAndGlyphs" >(iii’)</text>
<text x="726.7" y="759" font-size="22" font-family="Liberation Sans, sans-serif" font-weight="normal" fill="#4a3838" textLength="30.1" lengthAdjust="spacingAndGlyphs" >(ii’)</text>
<text x="49.6" y="461.8" font-size="17.7" font-family="Liberation Serif, serif" font-weight="bold" fill="#111" textLength="132.2" lengthAdjust="spacingAndGlyphs">(b) Au NPs/pZrO</text><text x="181.6" y="467.5" font-size="10" font-family="Liberation Serif, serif" font-weight="bold" fill="#111">2</text><text x="193.2" y="461.8" font-size="17.7" font-family="Liberation Serif, serif" font-weight="bold" fill="#111" textLength="475.8" lengthAdjust="spacingAndGlyphs">with the spectra of (ii’) A.3, (iii’) Alpha, and (iv’) Delta variants</text>
<text transform="translate(330.9,853.5) scale(0.982,1)" x="0" y="0" font-size="21" font-family="Liberation Serif, serif" font-weight="bold" fill="#111">Raman shift (cm<tspan font-size="13" dy="-8">-1</tspan><tspan dy="8">)</tspan></text>
<text transform="translate(17.2,552.6) rotate(-90)" x="0" y="0" font-size="21" font-family="Liberation Serif, serif" font-weight="bold" fill="#111" textLength="228.6" lengthAdjust="spacingAndGlyphs">Intensity (arbitrary units)</text>
<rect x="37" y="868" width="736" height="172" fill="none" stroke="#222" stroke-width="2"/>
<text x="63.9" y="903" font-size="22" font-family="Liberation Serif, serif" font-weight="bold" fill="#111" textLength="76.7" lengthAdjust="spacingAndGlyphs">Legend:</text>
<rect x="160" y="888.5" width="48.2" height="20" fill="#a6d6f5"/>
<rect x="160" y="920.6" width="48.2" height="19" fill="#fcd6d6"/>
<line x1="161" y1="963.5" x2="209" y2="963.5" stroke="#111" stroke-width="2.2"/>
<line x1="161" y1="987.3" x2="209" y2="987.3" stroke="#d81e1e" stroke-width="2.2"/>
<line x1="159" y1="1013.4" x2="202" y2="1013.4" stroke="#1b7fcc" stroke-width="2.4" stroke-dasharray="9 7.5"/>
<text x="219.1" y="906.6" font-size="17.5" font-family="Liberation Serif, serif" font-weight="normal" fill="#1a1a1a" textLength="348.7" lengthAdjust="spacingAndGlyphs" >regions with observable differences in peak shape</text>
<text x="219.1" y="936.2" font-size="17.5" font-family="Liberation Serif, serif" font-weight="normal" fill="#1a1a1a" textLength="437.6" lengthAdjust="spacingAndGlyphs" >regions that exhibit peaks corresponding to non-spike proteins</text>
<text x="220.6" y="966.6" font-size="17.5" font-family="Liberation Serif, serif" font-weight="normal" fill="#1a1a1a" textLength="348.5" lengthAdjust="spacingAndGlyphs" >SERS peaks corresponding to spike glycoproteins</text>
<text x="220.6" y="992.6" font-size="17.5" font-family="Liberation Serif, serif" font-weight="normal" fill="#1a1a1a" textLength="381.8" lengthAdjust="spacingAndGlyphs" >SERS peaks corresponding to non-spike glycoproteins</text>
<text x="220.6" y="1014.6" font-size="17.5" font-family="Liberation Serif, serif" font-weight="normal" fill="#1a1a1a" textLength="283.2" lengthAdjust="spacingAndGlyphs" >SERS peaks corresponding to impurities</text>
</svg></body></html>
